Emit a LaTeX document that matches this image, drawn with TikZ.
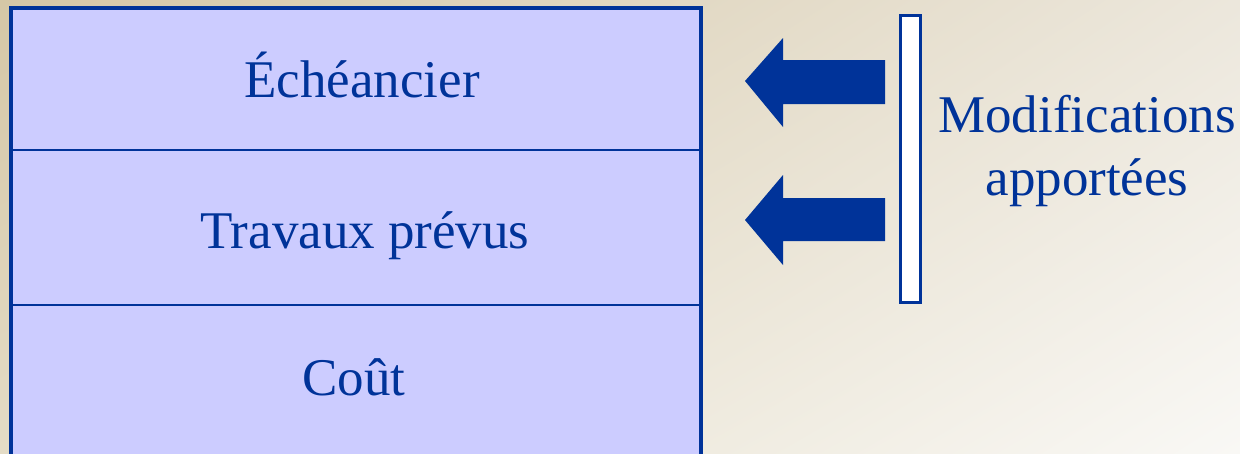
\documentclass[tikz,border=0pt]{standalone}
\usepackage{fontspec}
\setmainfont{Liberation Serif}
\usetikzlibrary{shadings}
\definecolor{navy}{HTML}{003399}
\definecolor{lav}{HTML}{CCCCFF}
\definecolor{bgul}{RGB}{213,199,166}
\definecolor{bgur}{RGB}{236,231,220}
\definecolor{bgll}{RGB}{228,220,198}
\definecolor{bglr}{RGB}{249,248,245}
\begin{document}
\begin{tikzpicture}[x=1pt,y=-1pt,
  lbl/.style={text=navy,font=\fontsize{53}{63}\selectfont,anchor=base,inner sep=0pt},
  bigarrow/.style={fill=navy},
  frame/.style={draw=navy}]
\useasboundingbox (0,0) rectangle (1240,453);
\clip (0,0) rectangle (1240,453);
\shade[upper left=bgul, upper right=bgur, lower left=bgll, lower right=bglr]
  (0,0) rectangle (1240,453);
% main box
\draw[frame,fill=lav,line width=4pt] (11,8) rectangle (701,470);
\draw[navy,line width=2pt] (11,150) -- (703,150);
\draw[navy,line width=2pt] (11,305) -- (703,305);
\node[lbl] (ech) at (362,97) {Échéancier};
\node[lbl] (trav) at (365,248) {Travaux prévus};
\node[lbl] (cout) at (354,395) {Coût};
% arrows
\fill[bigarrow] (745,81) -- (783,38) -- (783,60) -- (885,60) -- (885,104) -- (783,104) -- (783,127) -- cycle;
\fill[bigarrow] (745,220) -- (783,175) -- (783,198) -- (885,198) -- (885,241) -- (783,241) -- (783,265) -- cycle;
% vertical bar
\draw[frame,fill=white,line width=3pt] (900.5,15.5) rectangle (920.5,302.5);
\node[lbl] (mod) at (1087,132) {Modifications};
\node[lbl] (app) at (1087,195) {apportées};
\end{tikzpicture}
\end{document}
